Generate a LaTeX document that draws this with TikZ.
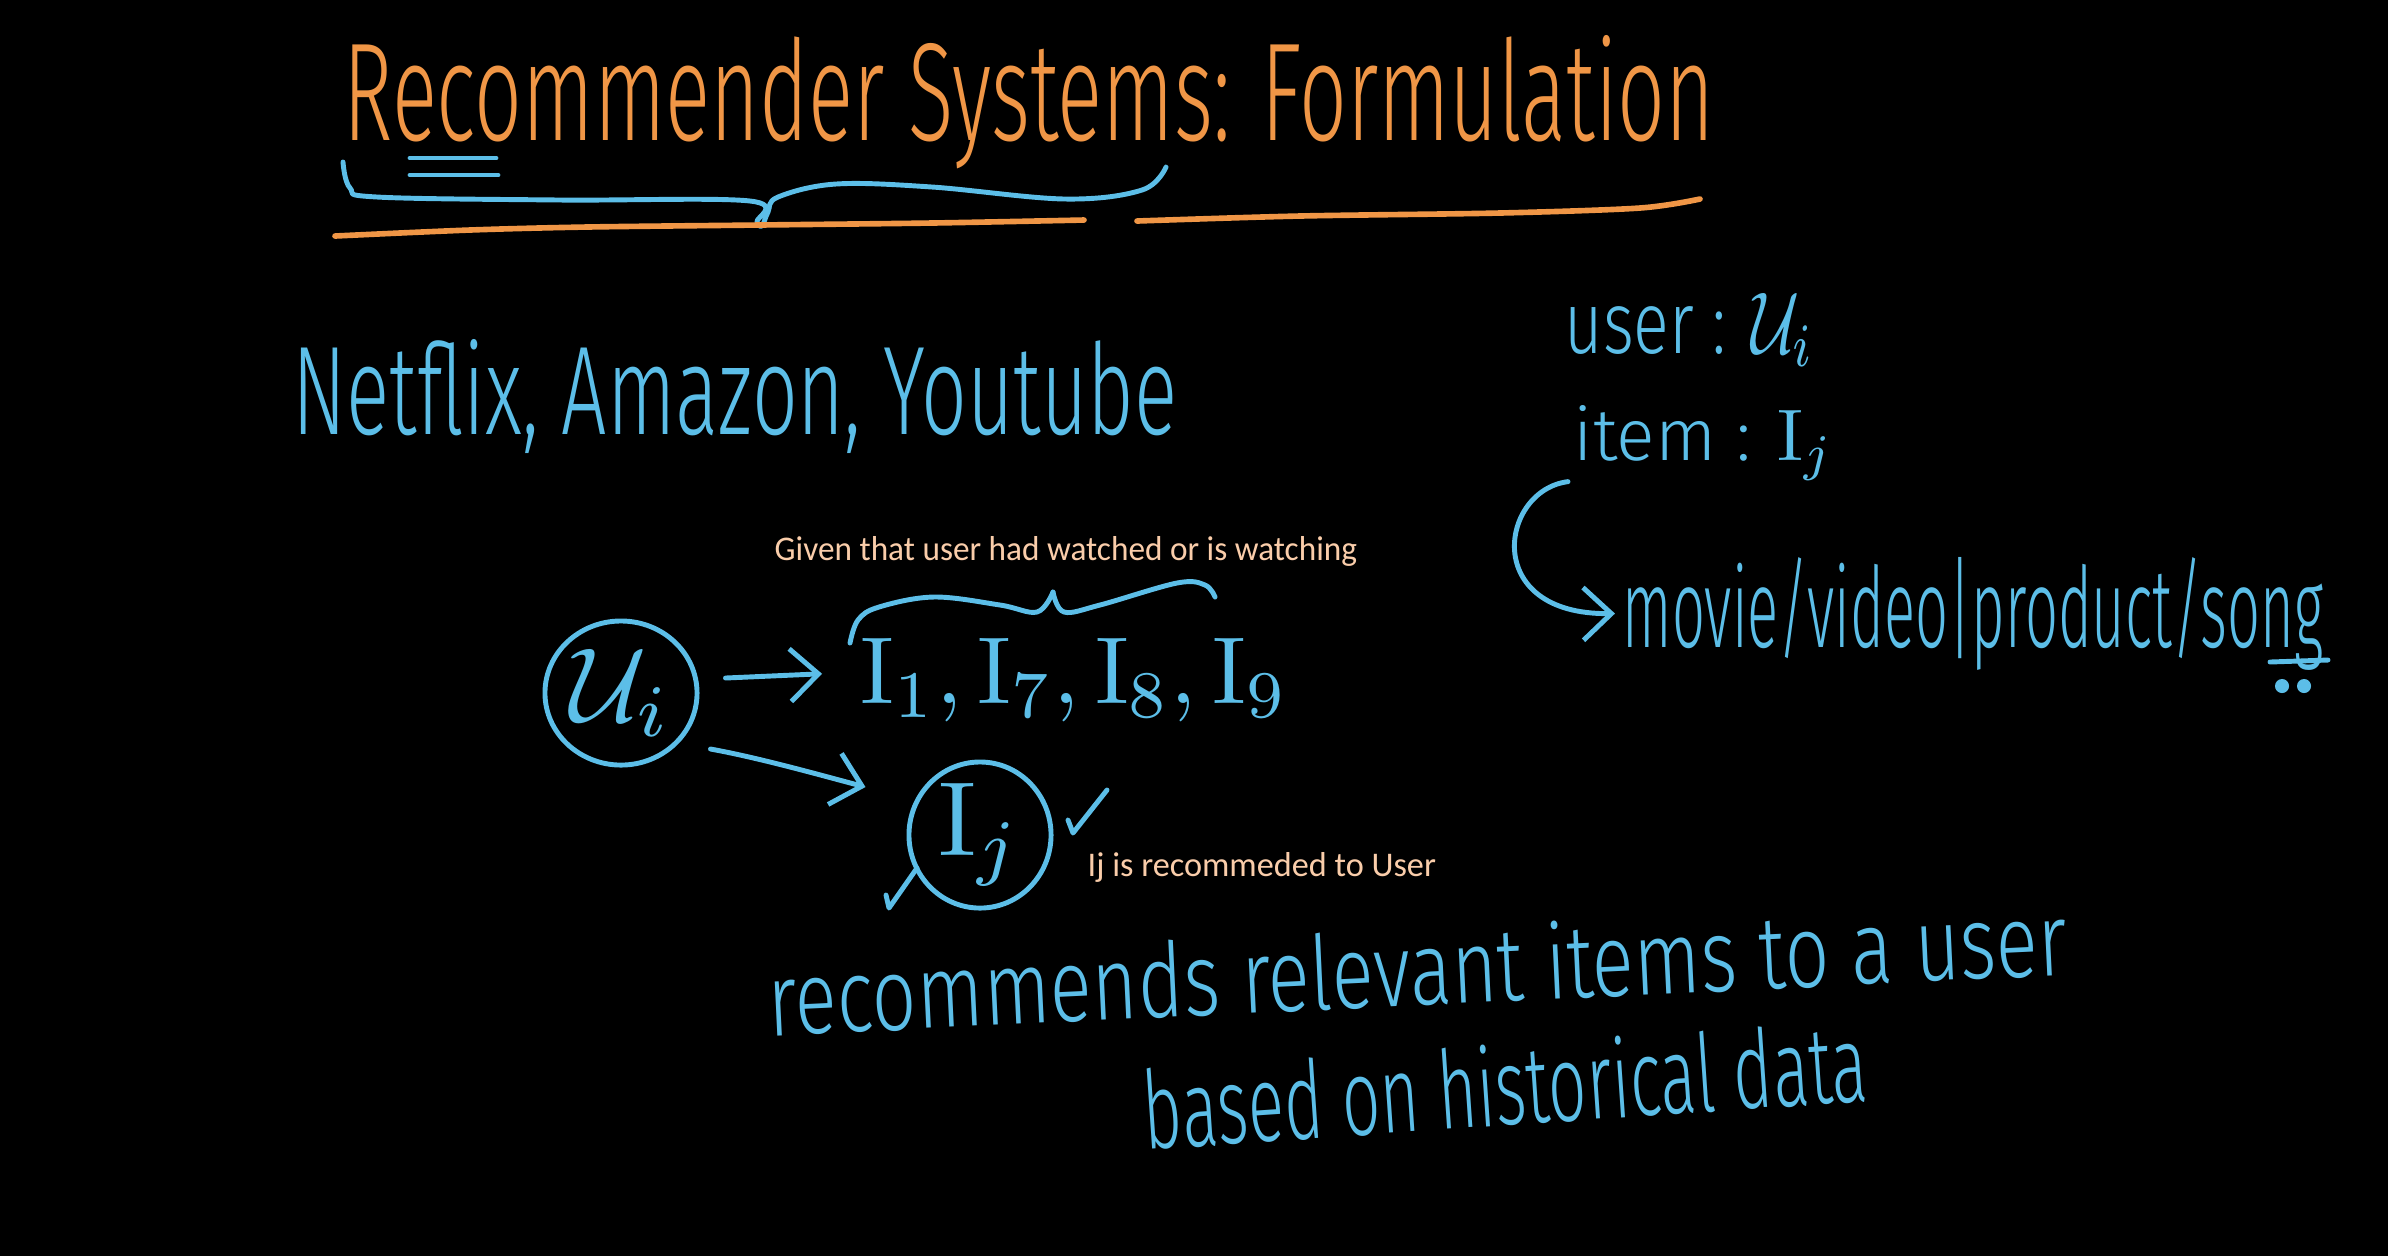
\documentclass[tikz,border=0pt]{standalone}
\usepackage[no-math]{fontspec}
\setmainfont{Fira Sans Light}
\newfontfamily\notefont{Carlito}
\usetikzlibrary{arrows.meta,shapes.geometric,calc}
\definecolor{chalkblue}{RGB}{92,190,232}
\definecolor{chalkorange}{RGB}{240,150,70}
\definecolor{notepeach}{RGB}{250,205,170}
\newcommand\fitto[3]{\resizebox{#1}{#2}{#3}}
\begin{document}
\begin{tikzpicture}[x=0.01cm,y=-0.01cm,
  bl/.style={draw=chalkblue, line width=1.4pt, line cap=round, line join=round},
  og/.style={draw=chalkorange, line width=1.6pt, line cap=round, line join=round},
  hand/.style={text=chalkblue, inner sep=0pt, anchor=base west},
  titletext/.style={text=chalkorange, inner sep=0pt, anchor=base west},
  note/.style={text=notepeach, inner sep=0pt, anchor=base west, font=\notefont},
  arr/.style={bl, -{Straight Barb[length=8pt,width=15pt,line width=1.4pt]}},
  ring/.style={ellipse, draw=chalkblue, line width=1.4pt, text=chalkblue, inner sep=0pt},
]
\fill[black] (0,0) rectangle (2388,1256);
\useasboundingbox (0,0) rectangle (2388,1256);

% title
\node[titletext] (title) at (343,140) {\fitto{13.7cm}{1.05cm}{Recommender Systems: Formulation}};
\draw[bl] plot[smooth, tension=0.6] coordinates {(343,162) (350,188) (377,197) (560,200) (750,201) (757,222) (762,226) (768,212) (778,197) (836,184) (932,187) (1065,199) (1142,190) (1166,167)};
\draw[bl] (410,158) -- (496,158);
\draw[bl] (410,175) -- (498,175);
\draw[og] plot[smooth] coordinates {(335,236) (470,230) (587,227) (759,225) (932,223) (1084,220)};
\draw[og] plot[smooth] coordinates {(1137,221) (1300,216) (1500,213) (1640,208) (1700,199)};

% examples
\node[hand] (apps) at (292,434) {\fitto{8.84cm}{0.95cm}{Netflix, Amazon, Youtube}};

% definitions
\node[hand] (user) at (1564,353) {\fitto{2.5cm}{0.6cm}{user : $\mathcal{U}_i$}};
\node[hand] (item) at (1573,460) {\fitto{2.6cm}{0.55cm}{item : $\mathrm{I}_j$}};
\node[hand] (kinds) at (1622,647) {\fitto{7.0cm}{0.9cm}{movie/video|product/song}};
\draw[bl] (2270,662) -- (2328,660);
\fill[chalkblue] (2282,686) circle (2pt) (2304,686) circle (2pt);
\draw[arr, shorten >=2pt] ([xshift=-0.05cm]item.south west) .. controls (1500,490) and (1480,615) .. (kinds.west);

% user -> items
\node[ring, minimum width=1.52cm, minimum height=1.44cm] (ui) at (621,693) {\scalebox{3}{$\mathcal{U}_i$}};
\node[hand] (items) at (860,703) {\fitto{4.27cm}{0.65cm}{$\mathrm{I}_1, \mathrm{I}_7, \mathrm{I}_8, \mathrm{I}_9$}};
\node[ring, minimum width=1.42cm, minimum height=1.46cm] (ij) at (980,835) {\scalebox{3}{$\mathrm{I}_j$}};
\draw[arr] ($(ui.east)+(26,-15)$) -- ($(items.west)+(-38,-6)$);
\draw[arr] ($(ui.east)+(11,56)$) .. controls (760,758) and (820,775) .. ($(ij.west)+(-41,-48)$);

% brace over watched items
\draw[bl] plot[smooth, tension=0.6] coordinates {(850,643) (858,620) (879,607) (934,597) (1000,605) (1037,612) (1053,592)};
\draw[bl] plot[smooth, tension=0.6] coordinates {(1053,592) (1064,612) (1100,605) (1177,583) (1205,585) (1215,597)};

% check marks
\draw[bl] (1068,820) -- (1073,833) -- (1107,790);
\draw[bl] (886,895) -- (889,908) -- (917,868);

% notes
\node[note] (given) at (774,560) {\fitto{5.82cm}{0.24cm}{Given that user had watched or is watching}};
\node[note] (rec) at (1087,876) {\fitto{3.48cm}{0.24cm}{Ij is recommeded to User}};

% summary
\node[hand, rotate=2.7] (sent1) at (769,1036) {\fitto{13.0cm}{0.78cm}{recommends relevant items to a user}};
\node[hand, rotate=3.9] (sent2) at (1145,1150) {\fitto{7.25cm}{0.82cm}{based on historical data}};
\end{tikzpicture}
\end{document}
